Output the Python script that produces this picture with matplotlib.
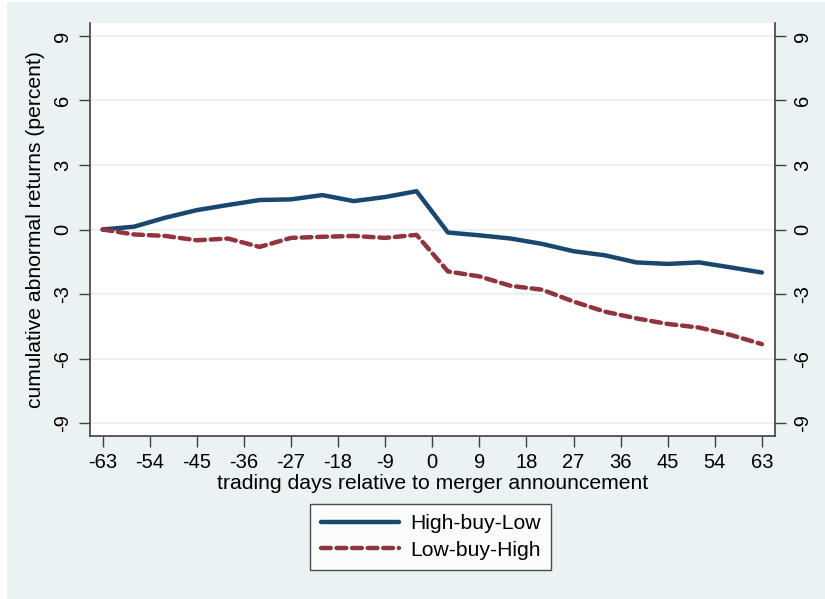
import matplotlib.pyplot as plt
import matplotlib.patches as mpatches

plt.rcParams['font.family'] = ['Liberation Sans', 'DejaVu Sans']
plt.rcParams['axes.unicode_minus'] = False

days = [-63, -57, -51, -45, -39, -33, -27, -21, -15, -9, -3,
        3, 9, 15, 21, 27, 33, 39, 45, 51, 57, 63]
high_buy_low = [0.0, 0.13, 0.55, 0.9, 1.14, 1.37, 1.4, 1.6, 1.32, 1.51, 1.78,
                -0.14, -0.27, -0.42, -0.67, -1.01, -1.2, -1.53, -1.6, -1.53, -1.76, -2.0]
low_buy_high = [0.0, -0.23, -0.3, -0.5, -0.42, -0.81, -0.39, -0.34, -0.3, -0.39, -0.25,
                -1.95, -2.18, -2.62, -2.8, -3.35, -3.82, -4.13, -4.39, -4.56, -4.9, -5.33]
xticks = list(range(-63, 64, 9))
yticks = [-9, -6, -3, 0, 3, 6, 9]

bg = '#EAF2F3'
navy = '#1A476F'
maroon = '#90353B'

fig = plt.figure(figsize=(8.25, 5.99), dpi=100)
fig.patch.set_facecolor('white')
fig.patches.append(mpatches.Rectangle((7 / 825, 0), 1, 1 - 2 / 599, transform=fig.transFigure,
                                      facecolor=bg, edgecolor='none', zorder=-10))

ax = fig.add_axes([90 / 825, 1 - 436 / 599, (775 - 90) / 825, (436 - 23) / 599])
ax.set_facecolor('white')

for y in yticks:
    ax.axhline(y, color=bg, lw=1.5, zorder=1)

ax.plot(days, high_buy_low, color=navy, lw=3.2, solid_capstyle='round', label='High-buy-Low', zorder=3)
ax.plot(days, low_buy_high, color=maroon, lw=3.2, dashes=(2.2, 1.3), dash_capstyle='round',
        label='Low-buy-High', zorder=3)

ax.set_xlim(-65.4, 65.5)
ax.set_ylim(-9.6, 9.6)
ax.set_xticks(xticks)
ax.set_yticks(yticks)
ax.tick_params(axis='both', labelsize=14.5, length=8, width=1, color='#404040', direction='out')
ax.tick_params(axis='x', pad=4)
ax.tick_params(axis='y', right=True, labelright=True, pad=5)
for t in ax.yaxis.get_major_ticks():
    t.label1.set_rotation(90)
    t.label1.set_va('center')
    t.label2.set_rotation(90)
    t.label2.set_va('center')

ax.spines['top'].set_visible(False)
for s in ['left', 'right', 'bottom']:
    ax.spines[s].set_color('#404040')
    ax.spines[s].set_linewidth(1.2)

ax.set_xlabel('trading days relative to merger announcement', fontsize=15.2)
ax.xaxis.set_label_coords(0.5, -0.093)
ax.set_ylabel('cumulative abnormal returns (percent)', fontsize=15.2)
ax.yaxis.set_label_coords(-0.066, 0.5)

leg = ax.legend(loc='upper center', bbox_to_anchor=(0.4975, -0.164), ncol=1, fontsize=15.2,
                frameon=True, fancybox=False, handlelength=3.7, borderpad=0.5,
                labelspacing=0.35, handletextpad=0.55, borderaxespad=0)
leg.get_frame().set_edgecolor('#202020')
leg.get_frame().set_linewidth(1)

fig.savefig('out.png', dpi=100)
